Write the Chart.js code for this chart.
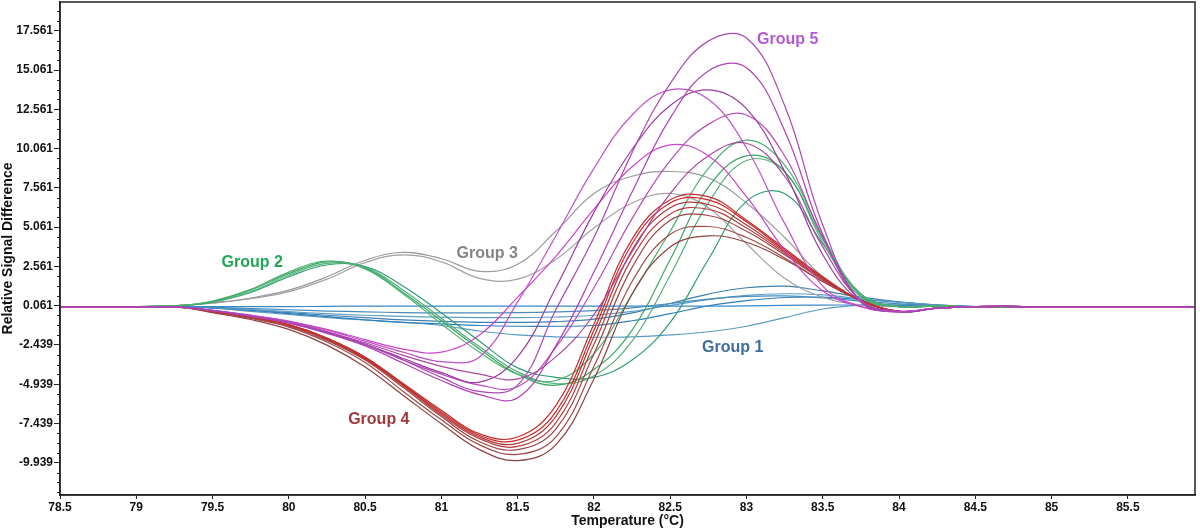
<!DOCTYPE html>
<html>
<head>
<meta charset="utf-8">
<script src="https://cdn.jsdelivr.net/npm/chart.js@4.4.1/dist/chart.umd.min.js"></script>
<style>
  html, body { margin: 0; padding: 0; background: #fff; }
  #wrap { width: 1200px; height: 530px; }
</style>
</head>
<body>
<div id="wrap"><canvas id="melt"></canvas></div>
<script>
// temperature grid shared by every curve
const temps = [78.5, 79.0, 79.3, 79.5, 79.75, 80.0, 80.25, 80.5, 80.75, 81.0, 81.25, 81.5, 81.75,
               82.0, 82.25, 82.5, 82.75, 83.0, 83.25, 83.5, 83.75, 84.0, 84.25, 84.5, 85.0, 85.94];

const xTicks = [78.5, 79, 79.5, 80, 80.5, 81, 81.5, 82, 82.5, 83, 83.5, 84, 84.5, 85, 85.5];
const yTicks = [-9.939, -7.439, -4.939, -2.439, 0.061, 2.561, 5.061, 7.561, 10.061, 12.561, 15.061, 17.561];

// Group 1 - blue, stays near the baseline
const group1 = [
  [0, 0, 0, 0, 0, 0, 0.02, 0.03, 0.03, 0.03, 0.03, 0.03, 0.03, 0.03, 0.03, 0.03, 0.03, 0.05, 0.08, 0.1, 0.1, 0.08, 0.05, 0, 0, 0],
  [0, 0, 0, -0.05, -0.12, -0.2, -0.28, -0.33, -0.38, -0.4, -0.4, -0.38, -0.33, -0.25, -0.08, 0.2, 0.48, 0.65, 0.68, 0.55, 0.35, 0.18, 0.08, 0, 0, 0],
  [0, 0, 0, -0.06, -0.18, -0.32, -0.45, -0.55, -0.62, -0.67, -0.7, -0.7, -0.66, -0.55, -0.3, 0.08, 0.45, 0.72, 0.82, 0.75, 0.5, 0.28, 0.1, 0, 0, 0],
  [0, 0, 0, -0.07, -0.2, -0.38, -0.55, -0.7, -0.84, -0.94, -1.0, -1.0, -0.95, -0.8, -0.4, 0.2, 0.8, 1.2, 1.3, 1.0, 0.6, 0.3, 0.1, 0, 0, 0],
  [0, 0, 0, -0.08, -0.24, -0.44, -0.64, -0.84, -1.0, -1.1, -1.2, -1.25, -1.25, -1.2, -0.9, -0.45, 0.05, 0.38, 0.58, 0.6, 0.45, 0.28, 0.1, 0, 0, 0],
  [0, 0, 0, -0.1, -0.3, -0.5, -0.7, -0.85, -1.0, -1.2, -1.55, -1.8, -1.92, -1.95, -1.92, -1.8, -1.6, -1.25, -0.7, -0.15, 0.1, 0.15, 0.08, 0, 0, 0]
];
// Group 2 - green
const group2 = [
  [0, 0, 0.08, 0.35, 1.1, 2.2, 2.9, 2.4, 0.8, -1.1, -2.9, -4.3, -4.7, -3.0, 0.8, 4.8, 8.8, 10.6, 9.0, 4.5, 0.8, 0.0, 0.05, 0, 0, 0],
  [0, 0, 0.08, 0.32, 1.05, 2.1, 2.85, 2.45, 0.9, -0.9, -2.7, -4.3, -5.0, -4.0, -1.5, 3.0, 7.6, 9.6, 8.6, 4.3, 0.7, 0.0, 0.05, 0, 0, 0],
  [0, 0, 0.08, 0.3, 0.95, 2.0, 2.75, 2.5, 1.05, -0.75, -2.55, -4.15, -4.9, -4.4, -2.2, 2.0, 6.6, 9.3, 8.6, 4.1, 0.6, 0.0, 0.05, 0, 0, 0],
  [0, 0, 0.08, 0.28, 0.9, 1.9, 2.65, 2.55, 1.3, -0.4, -2.2, -3.9, -4.5, -4.5, -3.4, -1.0, 3.0, 6.7, 7.2, 4.0, 0.8, 0.0, 0.05, 0, 0, 0]
];
// Group 3 - grey
const group3 = [
  [0, 0, 0.08, 0.25, 0.55, 1.05, 1.9, 2.95, 3.45, 3.05, 2.25, 2.7, 4.8, 7.2, 8.3, 8.6, 8.2, 6.6, 4.4, 1.9, 0.4, 0.0, 0.05, 0, 0, 0],
  [0, 0, 0.08, 0.22, 0.5, 0.95, 1.75, 2.8, 3.3, 2.85, 1.8, 1.75, 3.0, 5.0, 6.6, 7.2, 6.3, 4.0, 1.8, 0.6, 0.1, 0.0, 0.05, 0, 0, 0]
];
// Group 4 - dark red
const group4 = [
  [0, 0, -0.05, -0.3, -0.65, -1.15, -2.0, -3.2, -4.9, -6.6, -8.1, -8.3, -6.3, -1.1, 4.3, 6.8, 7.0, 5.5, 3.7, 1.9, 0.4, -0.3, -0.1, 0, 0, 0],
  [0, 0, -0.05, -0.3, -0.65, -1.15, -2.0, -3.25, -4.95, -6.7, -8.2, -8.5, -6.7, -1.5, 4.0, 6.6, 6.8, 5.4, 3.6, 1.85, 0.4, -0.3, -0.1, 0, 0, 0],
  [0, 0, -0.05, -0.3, -0.66, -1.17, -2.05, -3.3, -5.0, -6.8, -8.3, -8.7, -7.0, -1.9, 3.6, 6.3, 6.5, 5.2, 3.5, 1.8, 0.4, -0.3, -0.1, 0, 0, 0],
  [0, 0, -0.05, -0.32, -0.68, -1.2, -2.1, -3.35, -5.05, -6.9, -8.4, -8.9, -7.4, -2.4, 3.1, 5.9, 6.2, 5.0, 3.4, 1.75, 0.4, -0.3, -0.1, 0, 0, 0],
  [0, 0, -0.05, -0.32, -0.7, -1.25, -2.15, -3.4, -5.15, -7.0, -8.6, -9.1, -7.8, -3.0, 2.5, 5.5, 5.8, 4.8, 3.3, 1.7, 0.4, -0.3, -0.1, 0, 0, 0],
  [0, 0, -0.05, -0.34, -0.75, -1.3, -2.25, -3.55, -5.4, -7.2, -8.8, -9.4, -8.3, -3.8, 1.6, 4.6, 5.1, 4.4, 3.1, 1.6, 0.4, -0.3, -0.1, 0, 0, 0],
  [0, 0, -0.06, -0.38, -0.82, -1.45, -2.45, -3.85, -5.65, -7.45, -9.1, -9.8, -8.8, -4.6, 0.8, 3.8, 4.5, 4.1, 3.0, 1.6, 0.4, -0.3, -0.1, 0, 0, 0]
];
// Group 5 - magenta
const group5 = [
  [0, 0, -0.05, -0.25, -0.6, -1.0, -1.6, -2.4, -3.4, -4.5, -5.4, -5.0, -0.2, 4.4, 9.8, 14.2, 16.9, 17.1, 12.8, 5.2, 0.3, -0.35, -0.1, 0, 0, 0],
  [0, 0, -0.05, -0.26, -0.62, -1.05, -1.7, -2.5, -3.6, -4.7, -5.6, -5.8, -2.5, 2.2, 7.3, 12.0, 15.0, 15.2, 11.2, 4.6, 0.3, -0.35, -0.1, 0, 0, 0],
  [0, 0, -0.05, -0.24, -0.56, -0.95, -1.5, -2.2, -2.9, -3.5, -3.2, 0.3, 4.5, 8.8, 12.2, 13.8, 13.2, 10.1, 5.3, 1.3, 0.0, -0.3, -0.1, 0, 0, 0],
  [0, 0, -0.05, -0.25, -0.6, -1.0, -1.65, -2.4, -3.3, -4.2, -4.8, -3.2, 1.2, 6.0, 10.0, 12.8, 13.8, 12.6, 8.6, 3.3, 0.3, -0.3, -0.1, 0, 0, 0],
  [0, 0, -0.05, -0.25, -0.6, -1.0, -1.65, -2.4, -3.4, -4.3, -5.0, -5.1, -2.6, 1.2, 5.6, 9.3, 11.6, 12.2, 9.6, 4.4, 0.4, -0.3, -0.1, 0, 0, 0],
  [0, 0, -0.05, -0.23, -0.54, -0.92, -1.45, -2.1, -2.7, -2.9, -1.8, 0.6, 3.2, 6.2, 8.9, 10.3, 9.6, 7.0, 3.6, 1.0, 0.0, -0.3, -0.1, 0, 0, 0],
  [0, 0, -0.05, -0.24, -0.58, -0.98, -1.6, -2.3, -3.1, -3.8, -4.3, -4.6, -3.2, -0.5, 3.5, 7.2, 9.6, 10.4, 8.3, 3.8, 0.4, -0.3, -0.1, 0, 0, 0]
];

const blueColors = ['#3a88c8', '#4a8cb8', '#5b9fca', '#3f7fb0', '#2f7fc0', '#5a9cc0'];
const greenColors = ['#4db070', '#3aa864', '#52b07a', '#2f9e6e'];
const greyColors = ['#9a9a9a', '#a2a2a2'];
const redColors = ['#c03030', '#d42525', '#a83a3a', '#b84040', '#9c4545', '#a04848', '#8f4040'];
const magentaColors = ['#a848b0', '#b040b8', '#c050c8', '#9a3c9e', '#b84ab8', '#cc44cc', '#a8489c'];

const groupLabels = [
  {text: 'Group 1', color: '#3f6d9e', t: 82.91, v: -2.63},
  {text: 'Group 2', color: '#21a656', t: 79.76, v: 2.78},
  {text: 'Group 3', color: '#858585', t: 81.30, v: 3.35},
  {text: 'Group 4', color: '#9e3a3a', t: 80.59, v: -7.21},
  {text: 'Group 5', color: '#b25ad0', t: 83.27, v: 16.98}
];

const fontFamily = '"Liberation Sans", Arial, sans-serif';

function makeSets(group, colors) {
  return group.map((vals, i) => ({
    data: vals.map((v, j) => ({x: temps[j], y: v})),
    borderColor: colors[i % colors.length],
    borderWidth: 1.2,
    pointRadius: 0,
    tension: 0.4,
    fill: false
  }));
}

const datasets = [].concat(
  makeSets(group5, magentaColors),
  makeSets(group4, redColors),
  makeSets(group2, greenColors),
  makeSets(group3, greyColors),
  makeSets(group1, blueColors)
);

const labelPlugin = {
  id: 'groupLabels',
  afterDatasetsDraw(chart) {
    const {ctx, scales: {x, y}} = chart;
    ctx.save();
    ctx.font = 'bold 16px ' + fontFamily;
    ctx.textAlign = 'center';
    ctx.textBaseline = 'middle';
    groupLabels.forEach(l => {
      ctx.fillStyle = l.color;
      ctx.fillText(l.text, x.getPixelForValue(l.t), y.getPixelForValue(l.v));
    });
    ctx.restore();
  }
};

const framePlugin = {
  id: 'frame',
  afterDraw(chart) {
    const {ctx, chartArea: a, scales: {y}} = chart;
    ctx.save();
    ctx.strokeStyle = '#222';
    ctx.lineWidth = 1.5;
    ctx.strokeRect(a.left, a.top, a.right - a.left, a.bottom - a.top);
    // minor ticks on the y axis
    ctx.lineWidth = 1;
    for (let i = 0; i < yTicks.length; i++) {
      for (let k = -3; k <= 3; k++) {
        if (k === 0) continue;
        const v = yTicks[i] + k * 0.625;
        if (v < y.min || v > y.max) continue;
        const py = Math.round(y.getPixelForValue(v)) + 0.5;
        ctx.beginPath();
        ctx.moveTo(a.left, py);
        ctx.lineTo(a.left - 3, py);
        ctx.stroke();
      }
    }
    ctx.restore();
  }
};

new Chart(document.getElementById('melt'), {
  type: 'line',
  data: {datasets: datasets},
  plugins: [labelPlugin, framePlugin],
  options: {
    responsive: true,
    maintainAspectRatio: false,
    animation: false,
    layout: {padding: {top: 2, right: 5, left: 0, bottom: 0}},
    plugins: {
      legend: {display: false},
      tooltip: {enabled: false}
    },
    scales: {
      x: {
        type: 'linear',
        min: 78.5,
        max: 85.94,
        afterBuildTicks: s => { s.ticks = xTicks.map(v => ({value: v})); },
        afterFit: s => { s.height = 35; s.paddingLeft = 0; s.paddingRight = 0; },
        ticks: {
          color: '#111',
          padding: 1,
          maxRotation: 0,
          autoSkip: false,
          font: {family: fontFamily, size: 12, weight: 'bold'},
          callback: v => String(v)
        },
        grid: {drawOnChartArea: false, drawTicks: true, tickLength: 4, tickColor: '#222'},
        border: {display: true, color: '#222', width: 1.5},
        title: {
          display: true,
          text: 'Temperature (°C)',
          color: '#111',
          padding: 0,
          font: {family: fontFamily, size: 14, weight: 'bold'}
        }
      },
      y: {
        type: 'linear',
        min: -11.99,
        max: 19.39,
        afterBuildTicks: s => { s.ticks = yTicks.map(v => ({value: v})); },
        afterFit: s => { s.width = 60; s.paddingTop = 0; s.paddingBottom = 0; },
        ticks: {
          color: '#111',
          padding: 1,
          autoSkip: false,
          font: {family: fontFamily, size: 12, weight: 'bold'},
          callback: v => v.toFixed(3)
        },
        grid: {drawOnChartArea: false, drawTicks: true, tickLength: 6, tickColor: '#222'},
        border: {display: true, color: '#222', width: 1.5},
        title: {
          display: true,
          text: 'Relative Signal Difference',
          color: '#111',
          padding: 0,
          font: {family: fontFamily, size: 14, weight: 'bold'}
        }
      }
    }
  }
});
</script>
</body>
</html>
